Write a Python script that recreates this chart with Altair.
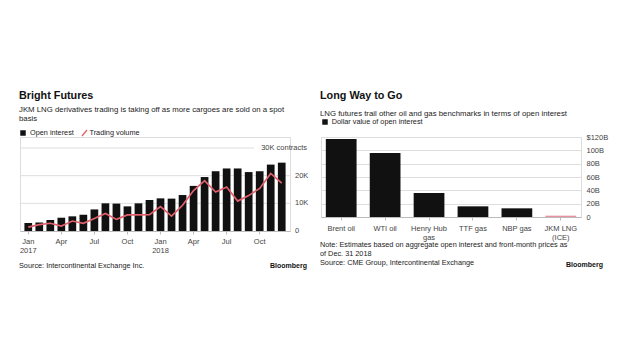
import altair as alt
import pandas as pd

FONT = "Liberation Sans"
INK = "#111111"
RED = "#e2606c"
PINK = "#ec8fa0"
GRID = "#dedede"
LABEL = "#444444"

# ---------------- left panel data ----------------
months = ["Jan 2017", "Feb 2017", "Mar 2017", "Apr 2017", "May 2017", "Jun 2017",
          "Jul 2017", "Aug 2017", "Sep 2017", "Oct 2017", "Nov 2017", "Dec 2017",
          "Jan 2018", "Feb 2018", "Mar 2018", "Apr 2018", "May 2018", "Jun 2018",
          "Jul 2018", "Aug 2018", "Sep 2018", "Oct 2018", "Nov 2018", "Dec 2018"]
open_interest_k = [2.9, 3.1, 4.0, 4.8, 5.3, 5.9, 7.8, 10.0, 9.9, 8.9, 10.0, 11.2,
                   11.8, 11.7, 13.0, 16.3, 19.5, 21.6, 22.6, 22.6, 21.3, 21.6, 24.0, 24.7]
trading_volume_k = [1.4, 2.3, 2.8, 1.8, 3.6, 2.8, 4.5, 6.3, 4.2, 5.8, 5.8, 5.9,
                    8.8, 5.4, 9.3, 14.6, 18.2, 14.1, 15.9, 10.8, 12.8, 15.4, 20.8, 17.3]
left_tick_months = ["Jan 2017", "Apr 2017", "Jul 2017", "Oct 2017",
                    "Jan 2018", "Apr 2018", "Jul 2018", "Oct 2018"]
left_y_ticks = [0, 10, 20, 30]
left_y_labels = ["0", "10K", "20K", "30K contracts"]
left_title = "Bright Futures"
left_subtitle = ["JKM LNG derivatives trading is taking off as more cargoes are sold on a spot",
                 "basis"]
left_legend = ["Open interest", "Trading volume"]
left_source = "Source: Intercontinental Exchange Inc."

# ---------------- right panel data ----------------
benchmarks = ["Brent oil", "WTI oil", "Henry Hub gas", "TTF gas", "NBP gas", "JKM LNG (ICE)"]
open_interest_busd = [117, 96, 36, 16, 13, 2]
right_y_ticks = [0, 20, 40, 60, 80, 100, 120]
right_title = "Long Way to Go"
right_subtitle = "LNG futures trail other oil and gas benchmarks in terms of open interest"
right_legend = "Dollar value of open interest"
right_notes = ["Note: Estimates based on aggregate open interest and front-month prices as",
               "of Dec. 31 2018",
               "Source: CME Group, Intercontinental Exchange"]

# left plot is drawn 11px lower inside a taller view so both panels share one origin row
SHIFT = 11
W1, H1 = 270, 83 + SHIFT
W2, H2 = 260, 80


def text_mark(s, x, y, size=7.3, weight="normal", align="left", color="#222222", baseline="middle"):
    return alt.Chart(pd.DataFrame({"t": [s]})).mark_text(
        align=align, baseline=baseline, font=FONT, fontSize=size, fontWeight=weight, color=color
    ).encode(text="t:N", x=alt.value(x), y=alt.value(y))


def title_params(text, subtitle, pad, offset):
    return alt.TitleParams(
        text=text, subtitle=subtitle, anchor="start", font=FONT, fontSize=10.8,
        fontWeight="bold", color=INK, subtitleFont=FONT, subtitleFontSize=7.8,
        subtitleColor="#222222", subtitleLineHeight=9, subtitlePadding=pad, offset=offset,
    )


# ---------------- left chart ----------------
df1 = pd.DataFrame({"month": months, "oi": open_interest_k, "vol": trading_volume_k})
yscale1 = alt.Scale(domain=[0, 30], nice=False, range=[H1, SHIFT])

x1 = alt.X(
    "month:O", sort=months, title=None,
    scale=alt.Scale(paddingInner=0.3, paddingOuter=0.4),
    axis=alt.Axis(
        values=left_tick_months,
        labelExpr="slice(datum.value,0,3) == 'Jan' ? [slice(datum.value,0,3), slice(datum.value,4)] : slice(datum.value,0,3)",
        labelAngle=0, labelFont=FONT, labelFontSize=7.5, labelColor=LABEL, labelPadding=3,
        labelLineHeight=9, labelBaseline="top", tickSize=3, tickColor="#bbbbbb",
        domainColor="#bbbbbb",
    ),
)

bars1 = alt.Chart(df1).mark_bar(color=INK).encode(
    x=x1,
    y=alt.Y("oi:Q", title=None, scale=yscale1, axis=None),
)

line1 = alt.Chart(df1).mark_line(color=RED, strokeWidth=1.7).encode(
    x=alt.X("month:O", sort=months),
    y=alt.Y("vol:Q", axis=None),
)

df_ticks1 = pd.DataFrame({"v": left_y_ticks, "lab": left_y_labels})

grid1 = alt.Chart(df_ticks1.iloc[1:3]).mark_rule(color=GRID, strokeWidth=1).encode(
    y=alt.Y("v:Q", axis=None), x=alt.value(0), x2=alt.value(W1)
)
grid1_top = alt.Chart(df_ticks1.iloc[3:]).mark_rule(color=GRID, strokeWidth=1).encode(
    y=alt.Y("v:Q", axis=None), x=alt.value(0), x2=alt.value(W1 - 36)
)
ylab1 = alt.Chart(df_ticks1.iloc[:3]).mark_text(
    align="left", baseline="middle", font=FONT, fontSize=7.5, color=LABEL
).encode(y=alt.Y("v:Q", axis=None), x=alt.value(W1 + 5), text="lab:N")
ylab1_top = alt.Chart(df_ticks1.iloc[3:]).mark_text(
    align="right", baseline="middle", font=FONT, fontSize=7.5, color=LABEL
).encode(y=alt.Y("v:Q", axis=None), x=alt.value(W1 + 17), text="lab:N")

leg1_sq = alt.Chart(pd.DataFrame({"a": [0]})).mark_square(size=30, color=INK, opacity=1).encode(
    x=alt.value(3), y=alt.value(SHIFT - 15)
)
leg1_ln = alt.Chart(pd.DataFrame({"a": [0]})).mark_rule(color=RED, strokeWidth=1.3).encode(
    x=alt.value(62), x2=alt.value(67), y=alt.value(SHIFT - 12), y2=alt.value(SHIFT - 18)
)

left = alt.layer(
    grid1, grid1_top, bars1, line1, ylab1, ylab1_top, leg1_sq, leg1_ln,
    text_mark(left_legend[0], 10, SHIFT - 15),
    text_mark(left_legend[1], 69.5, SHIFT - 15),
    text_mark(left_source, -1, H1 + 36.5, baseline="alphabetic"),
    text_mark("Bloomberg", W1 + 17, H1 + 36.5, size=7, weight="bold", align="right", color=INK,
              baseline="alphabetic"),
).properties(width=W1, height=H1, title=title_params(left_title, left_subtitle, 5.5, 6))

# ---------------- right chart ----------------
df2 = pd.DataFrame({"bench": benchmarks, "val": open_interest_busd})

bars2 = alt.Chart(df2).mark_bar().encode(
    x=alt.X(
        "bench:N", sort=benchmarks, title=None,
        scale=alt.Scale(paddingInner=0.3, paddingOuter=0.11),
        axis=alt.Axis(
            labelExpr="datum.value == 'Henry Hub gas' ? ['Henry Hub', 'gas'] : datum.value == 'JKM LNG (ICE)' ? ['JKM LNG', '(ICE)'] : datum.value",
            labelAngle=0, labelFont=FONT, labelFontSize=7.5, labelColor=LABEL, labelPadding=4,
            labelLineHeight=9, labelBaseline="top", tickSize=3, tickColor="#bbbbbb",
            domainColor="#bbbbbb",
        ),
    ),
    y=alt.Y(
        "val:Q", title=None, scale=alt.Scale(domain=[0, 120], nice=False),
        axis=alt.Axis(
            orient="right", values=right_y_ticks, grid=True, gridColor=GRID, domain=False,
            ticks=False, labelPadding=5, labelAlign="left", labelBaseline="middle",
            labelExpr="datum.value == 120 ? '$120B' : datum.value == 0 ? '0' : datum.value + 'B'",
            labelFont=FONT, labelFontSize=7.5, labelColor=LABEL,
        ),
    ),
    color=alt.condition(alt.datum.bench == "JKM LNG (ICE)", alt.value(PINK), alt.value(INK)),
)

leg2_sq = alt.Chart(pd.DataFrame({"a": [0]})).mark_square(size=30, color=INK, opacity=1).encode(
    x=alt.value(4), y=alt.value(-15)
)

right = alt.layer(
    bars2, leg2_sq,
    text_mark(right_legend, 10.7, -15),
    text_mark(right_notes[0], -1, H2 + 30, baseline="alphabetic"),
    text_mark(right_notes[1], -1, H2 + 38.6, baseline="alphabetic"),
    text_mark(right_notes[2], -1, H2 + 47.5, baseline="alphabetic"),
    text_mark("Bloomberg", W2 + 22, H2 + 50, size=7, weight="bold", align="right", color=INK,
              baseline="alphabetic"),
).properties(width=W2, height=H2, title=title_params(right_title, right_subtitle, 8.5, 0.5))

chart = alt.hconcat(left, right, spacing=10).properties(
    padding={"left": 18, "top": 89, "right": 0, "bottom": 0}
).configure_view(stroke=None).configure(font=FONT, background="white")

chart.save("out.html", embed_options={"renderer": "svg", "actions": False})
